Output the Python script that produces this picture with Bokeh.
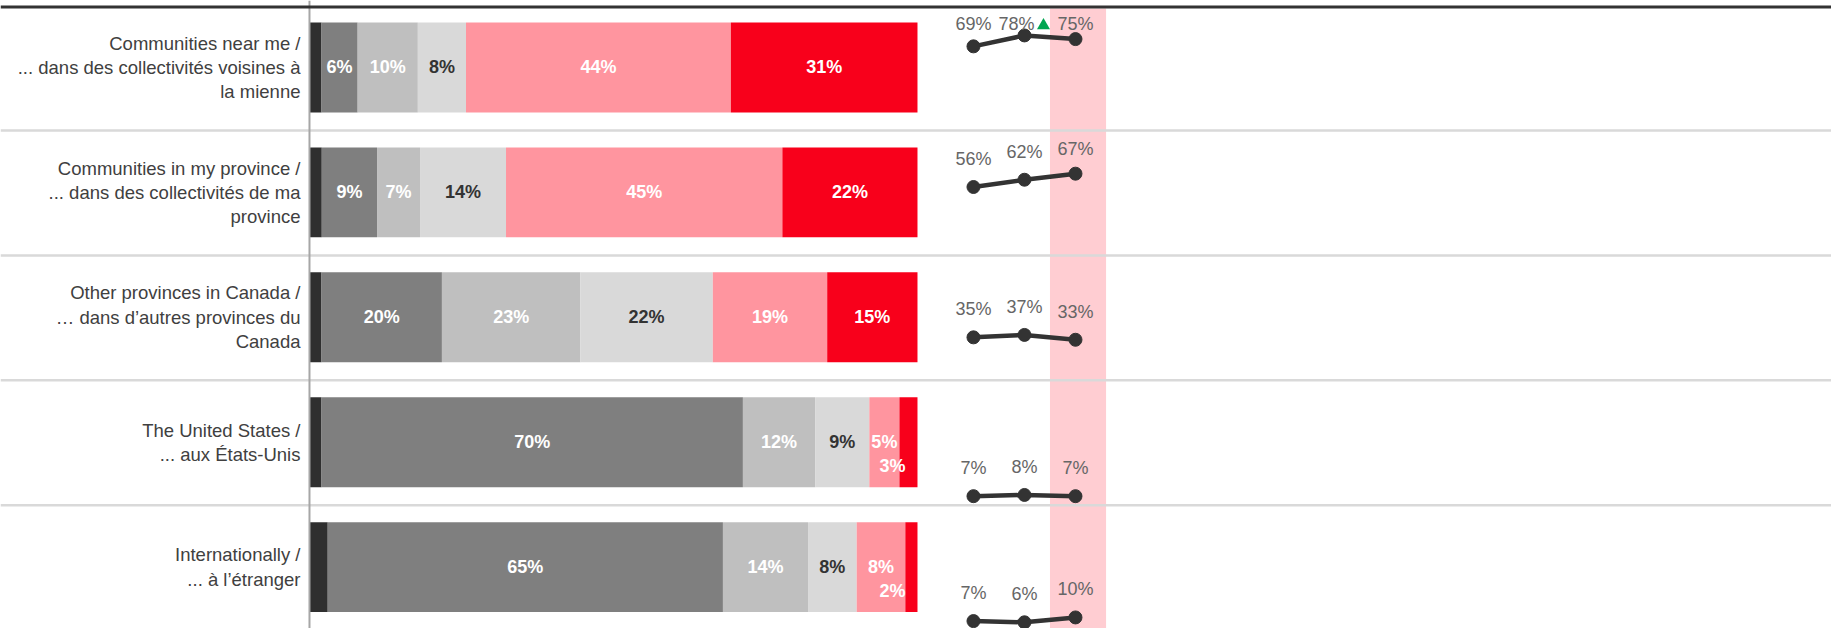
from bokeh.plotting import figure
from bokeh.models import Range1d, Span, ColumnDataSource
from bokeh.core.properties import value
from bokeh.embed import file_html
from bokeh.resources import INLINE

# ---------------- data ----------------
categories = [
    "Communities near me /\n... dans des collectivités voisines à\nla mienne",
    "Communities in my province /\n... dans des collectivités de ma\nprovince",
    "Other provinces in Canada /\n… dans d’autres provinces du\nCanada",
    "The United States /\n... aux États-Unis",
    "Internationally /\n... à l’étranger",
]
series_names = ["Don't know", "Very unlikely", "Somewhat unlikely", "Neutral",
                "Somewhat likely", "Very likely"]
dont_know = [2, 2, 2, 2, 3]
very_unlikely = [6, 9, 20, 70, 65]
somewhat_unlikely = [10, 7, 23, 12, 14]
neutral = [8, 14, 22, 9, 8]
somewhat_likely = [44, 45, 19, 5, 8]
very_likely = [31, 22, 15, 3, 2]

waves = ["Wave 1", "Wave 2", "Wave 3"]
wave1 = [69, 56, 35, 7, 7]
wave2 = [78, 62, 37, 8, 6]
wave3 = [75, 67, 33, 7, 10]
sig_up_wave2 = [True, False, False, False, False]

# ---------------- styles ----------------
colors = ["#2f2f2f", "#7f7f7f", "#bfbfbf", "#d9d9d9", "#ff959f", "#f8001b"]
label_colors = [None, "white", "white", "#333333", "white", "white"]
FONT = value("Liberation Sans")

n = len(categories)
rows = list(range(n))

p = figure(width=1831, height=628, output_backend="svg", toolbar_location=None,
           x_range=Range1d(-50.82, 250.33), y_range=Range1d(4.4916, -0.5364),
           x_axis_location=None, y_axis_location=None, min_border=0)
p.extra_x_ranges = {"spark": Range1d(-19.078, 16.824)}
p.grid.visible = False
p.outline_line_color = None
p.background_fill_color = "white"

# highlight band for latest wave
p.quad(left=[len(waves) - 1.5], right=[len(waves) - 0.4], bottom=[4.6], top=[-0.4724],
       x_range_name="spark", fill_color="#ffcdd2", line_color=None)

# ---------------- stacked bars ----------------
series = [dont_know, very_unlikely, somewhat_unlikely, neutral, somewhat_likely, very_likely]
totals = [sum(s[i] for s in series) for i in rows]
left = [0.0] * n
for k, s in enumerate(series):
    share = [s[i] / totals[i] * 100 for i in rows]
    right = [left[i] + share[i] for i in rows]
    src = ColumnDataSource(dict(y=rows, left=left, right=right))
    p.hbar(y="y", left="left", right="right", height=0.72, source=src,
           fill_color=colors[k], line_color=None)
    if k > 0:
        big = [i for i in rows if s[i] > 3]
        small = [i for i in rows if s[i] <= 3]
        if big:
            bsrc = ColumnDataSource(dict(
                x=[(left[i] + right[i]) / 2 for i in big],
                y=[i for i in big],
                t=[f"{s[i]}%" for i in big]))
            p.text(x="x", y="y", text="t", source=bsrc, text_align="center",
                   text_baseline="middle", text_font=FONT, text_font_style="bold",
                   text_font_size="18px", text_color=label_colors[k])
        if small:
            ssrc = ColumnDataSource(dict(
                x=[right[i] for i in small],
                y=[i + 0.19 for i in small],
                t=[f"{s[i]}%" for i in small]))
            p.text(x="x", y="y", text="t", source=ssrc, text_align="right",
                   text_baseline="middle", x_offset=-12, text_font=FONT,
                   text_font_style="bold", text_font_size="18px",
                   text_color=label_colors[k])
    left = right

# category labels
p.text(x=[-1.48] * n, y=rows, text=categories, text_align="right",
       text_baseline="middle", text_font=FONT, text_font_size="18.5px",
       text_color="#404040", text_line_height=1.16)

# ---------------- sparklines ----------------
wave_vals = [wave1, wave2, wave3]


def spark_y(i, v):
    return i + 0.5 - 0.97 * v / 100


for i in rows:
    xs = list(range(len(waves)))
    ys = [spark_y(i, w[i]) for w in wave_vals]
    p.line(x=xs, y=ys, x_range_name="spark", line_color="#333333", line_width=4.5)
    p.scatter(x=xs, y=ys, x_range_name="spark", size=13, fill_color="#333333",
              line_color="#333333")
    ly = [max(y - 0.224, i - 0.348) for y in ys]
    sig = [False, sig_up_wave2[i], False]
    lsrc = ColumnDataSource(dict(x=xs, y=ly, t=[f"{w[i]}%" for w in wave_vals],
                                 xo=[-8 if s_ else 0 for s_ in sig]))
    p.text(x="x", y="y", text="t", x_offset="xo", source=lsrc, x_range_name="spark",
           text_align="center", text_baseline="middle", text_font=FONT,
           text_font_size="18px", text_color="#666666")
    if sig_up_wave2[i]:
        p.scatter(x=[1.373], y=[ly[1] + 0.012], x_range_name="spark", marker="triangle",
                  size=13, fill_color="#00a651", line_color=None)

# ---------------- rules ----------------
for b in range(n - 1):
    p.add_layout(Span(location=b + 0.505, dimension="width", line_color="#d9d9d9",
                      line_width=2.5))
p.add_layout(Span(location=0, dimension="height", line_color="#a6a6a6", line_width=2))
p.add_layout(Span(location=-0.4844, dimension="width", line_color="#333333",
                  line_width=3))

open("out.html", "w").write(file_html(p, INLINE))
